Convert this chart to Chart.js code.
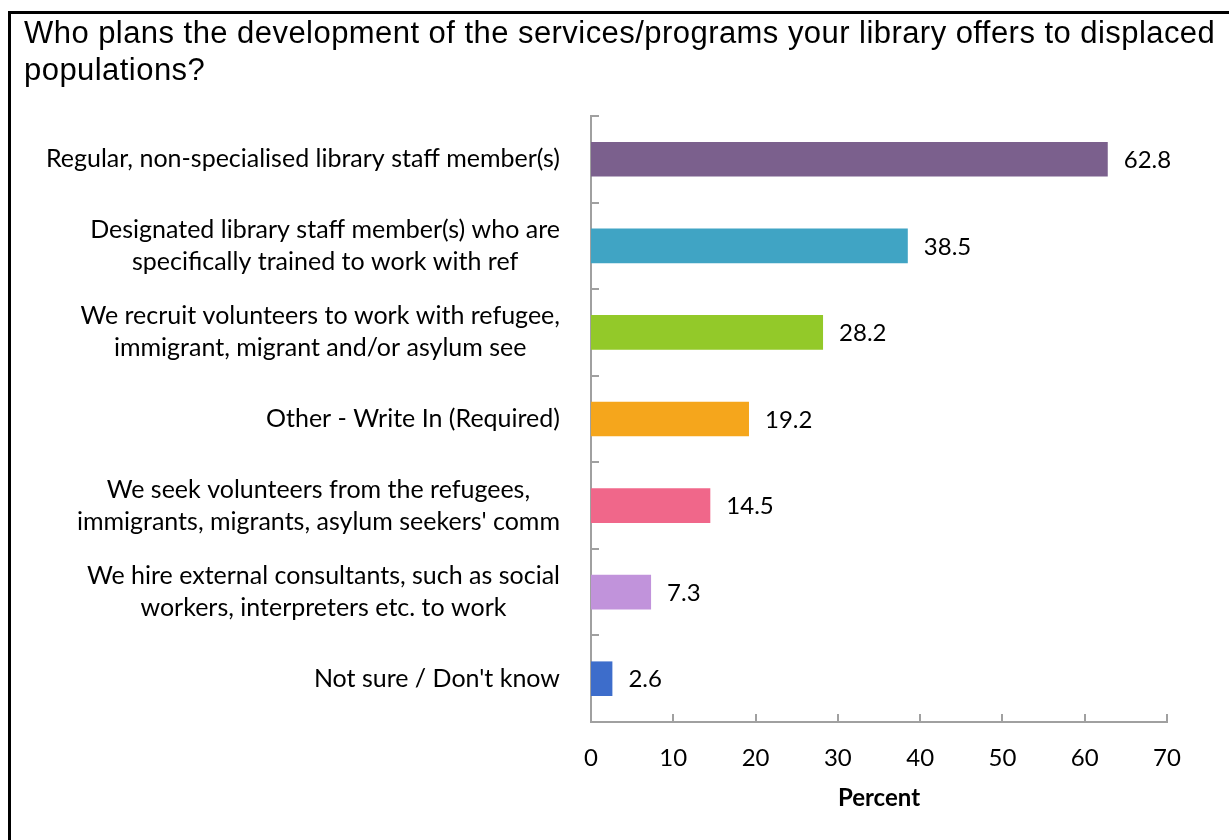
<!DOCTYPE html>
<html lang="en">
<head>
  <meta charset="UTF-8" />
  <title>Who plans the development of services</title>
  <script src="https://cdn.jsdelivr.net/npm/chart.js"></script>
  <style>
    body, html { margin: 0; padding: 0; background: #fff; overflow: hidden; }
    #frame {
      position: absolute; left: 8px; top: 11px;
      width: 1221px; height: 829px;
      border-left: 3px solid #000; border-top: 3px solid #000;
      box-sizing: border-box;
    }
    #chart { display: block; }
  </style>
</head>
<body>
  <div id="frame"><canvas id="chart" width="1218" height="826"></canvas></div>

  <script>
    const titleLines = [
      'Who plans the development of the services/programs your library offers to displaced',
      'populations?'
    ];
    const categories = [
      ['Regular, non-specialised library staff member(s)'],
      ['Designated library staff member(s) who are', 'specifically trained to work with ref'],
      ['We recruit volunteers to work with refugee,', 'immigrant, migrant and/or asylum see'],
      ['Other - Write In (Required)'],
      ['We seek volunteers from the refugees,', "immigrants, migrants, asylum seekers' comm"],
      ['We hire external consultants, such as social', 'workers, interpreters etc. to work'],
      ["Not sure / Don't know"]
    ];
    const percents = [62.8, 38.5, 28.2, 19.2, 14.5, 7.3, 2.6];
    const barColors = ['#7b608d', '#40a4c4', '#93c929', '#f5a61c', '#f0678a', '#c193db', '#3d6dcb'];
    const xMin = 0, xMax = 70, xStep = 10;
    const axisTitle = 'Percent';

    const titleFont = '31px "Liberation Sans", Arial, sans-serif';
    const catFont = '25px Lato, "Noto Sans", sans-serif';
    const valueFont = '24px Lato, "Noto Sans", sans-serif';
    const axisColor = '#a0a0a0';

    // chart title, left aligned, two lines (drawn here so it is not squeezed)
    const chartTitle = {
      id: 'chartTitle',
      afterDraw(chart) {
        const ctx = chart.ctx;
        ctx.save();
        ctx.font = titleFont;
        ctx.letterSpacing = '0.45px';
        ctx.fillStyle = '#000';
        ctx.textAlign = 'left';
        ctx.textBaseline = 'alphabetic';
        titleLines.forEach((t, i) => ctx.fillText(t, 13, 29 + i * 36.5));
        ctx.restore();
      }
    };

    // category labels: right-aligned block, lines centred inside it
    const categoryLabels = {
      id: 'categoryLabels',
      afterDraw(chart) {
        const ctx = chart.ctx, y = chart.scales.y;
        const right = chart.chartArea.left - 31;
        ctx.save();
        ctx.font = catFont;
        ctx.fillStyle = '#000';
        ctx.textBaseline = 'middle';
        ctx.textAlign = 'center';
        categories.forEach((lines, i) => {
          const cy = y.getPixelForValue(i);
          const w = Math.max(...lines.map(l => ctx.measureText(l).width));
          const lh = 32;
          lines.forEach((l, j) => {
            ctx.fillText(l, right - w / 2, cy + (j - (lines.length - 1) / 2) * lh);
          });
        });
        ctx.restore();
      }
    };

    // inward tick marks and value labels
    const extras = {
      id: 'extras',
      afterDatasetsDraw(chart) {
        const ctx = chart.ctx, x = chart.scales.x, y = chart.scales.y;
        const area = chart.chartArea;
        ctx.save();
        ctx.strokeStyle = axisColor;
        ctx.lineWidth = 2;
        ctx.beginPath();
        for (let v = xMin + xStep; v <= xMax; v += xStep) {
          const px = Math.round(x.getPixelForValue(v));
          ctx.moveTo(px, area.bottom);
          ctx.lineTo(px, area.bottom - 8);
        }
        const half = Math.abs(y.getPixelForValue(1) - y.getPixelForValue(0)) / 2;
        for (let i = 0; i < categories.length; i++) {
          const py = Math.round(y.getPixelForValue(i) - half);
          ctx.moveTo(area.left, py);
          ctx.lineTo(area.left + 8, py);
        }
        ctx.stroke();

        ctx.font = valueFont;
        ctx.fillStyle = '#000';
        ctx.textAlign = 'left';
        ctx.textBaseline = 'middle';
        chart.getDatasetMeta(0).data.forEach((bar, i) => {
          ctx.fillText(percents[i].toFixed(1), bar.x + 16, bar.y + 1);
        });
        ctx.restore();
      }
    };

    new Chart(document.getElementById('chart'), {
      type: 'bar',
      data: {
        labels: categories,
        datasets: [{
          data: percents,
          backgroundColor: barColors,
          borderWidth: 0,
          categoryPercentage: 1,
          barPercentage: 0.4
        }]
      },
      options: {
        indexAxis: 'y',
        responsive: false,
        animation: false,
        layout: { padding: { left: 13, right: 62, top: 102, bottom: 35 } },
        plugins: {
          legend: { display: false },
          tooltip: { enabled: false },
          title: { display: false }
        },
        scales: {
          x: {
            min: xMin, max: xMax,
            grid: { display: false, drawTicks: false },
            border: { display: true, color: axisColor, width: 2 },
            ticks: {
              stepSize: xStep, color: '#000', padding: 22,
              font: { family: 'Lato, "Noto Sans", sans-serif', size: 24 }
            },
            title: {
              display: true, text: axisTitle, color: '#000',
              font: { family: 'Lato, "Noto Sans", sans-serif', size: 24, weight: 'bold', lineHeight: 0.35 },
              padding: { top: 0, bottom: 3 }
            },
            afterFit(scale) { scale.height = 83; }
          },
          y: {
            offset: true,
            grid: { display: false, drawTicks: false },
            border: { display: true, color: axisColor, width: 2 },
            ticks: { display: false },
            afterFit(scale) { scale.width = 567; }
          }
        }
      },
      plugins: [chartTitle, categoryLabels, extras]
    });
  </script>
</body>
</html>
